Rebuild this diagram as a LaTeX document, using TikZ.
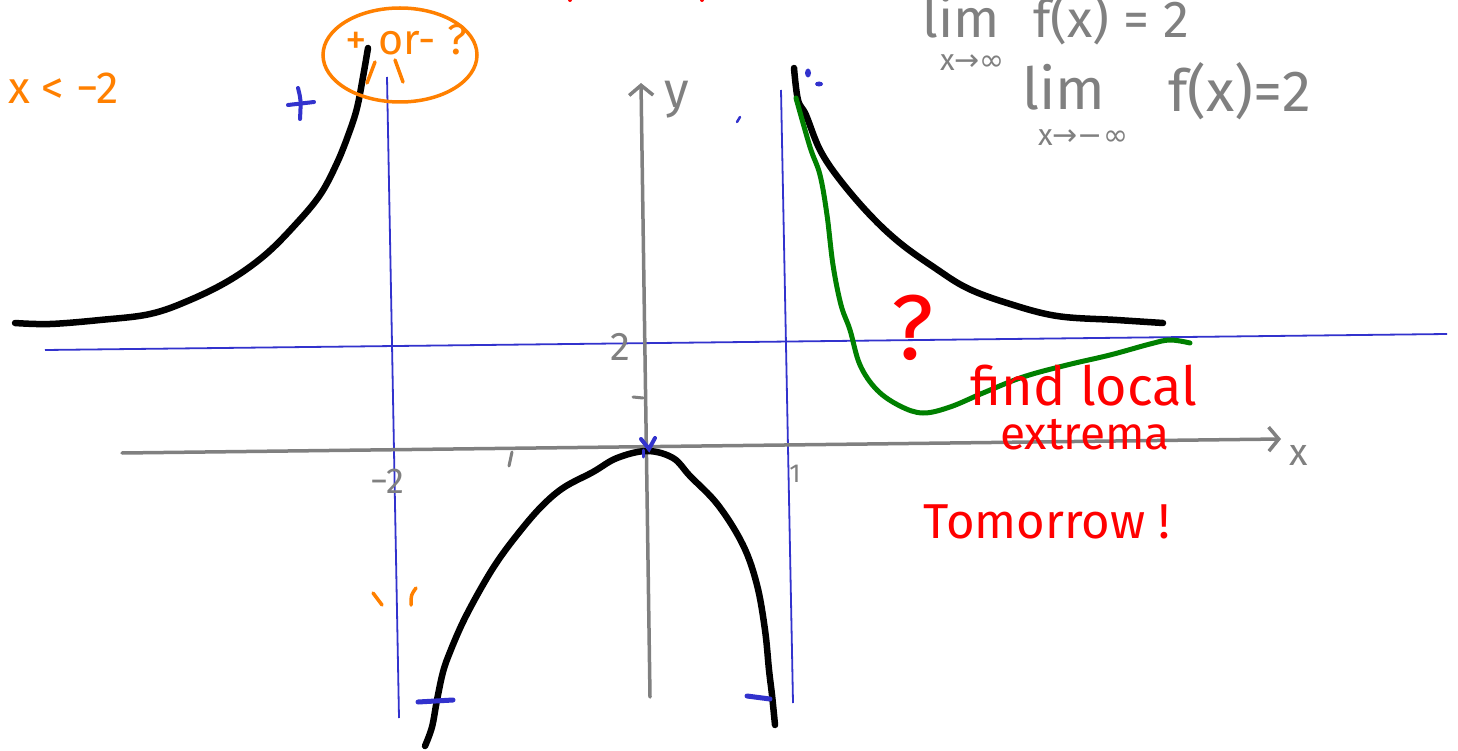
\documentclass[tikz,border=0pt]{standalone}
\usepackage{fontspec}
\setmainfont{Fira Sans}
\newfontfamily\symfont{DejaVu Sans}
\usetikzlibrary{arrows.meta,shapes.geometric}
\definecolor{penblue}{RGB}{50,50,205}
\definecolor{pengray}{RGB}{128,128,128}
\definecolor{penorange}{RGB}{255,128,0}
\definecolor{penred}{RGB}{255,0,0}
\definecolor{pengreen}{RGB}{0,128,0}
\begin{document}
\begin{tikzpicture}[x=1pt,y=-1pt,
  curve/.style={black,line width=6.5pt,line cap=round,line join=round},
  gcurve/.style={pengreen,line width=5pt,line cap=round,line join=round},
  asym/.style={penblue,line width=1.8pt},
  axis/.style={pengray,line width=3.5pt,line cap=round},
  axtip/.style={-{Straight Barb[length=10pt,width=24pt]}},
  bmark/.style={penblue,line width=5pt,line cap=round},
  omark/.style={penorange,line width=3.5pt,line cap=round},
  gtxt/.style={pengray,inner sep=0pt},
  otxt/.style={penorange,inner sep=0pt},
  rtxt/.style={penred,inner sep=0pt},
]
\useasboundingbox[fill=white] (0,0) rectangle (1458,751);

% asymptotes (blue)
\coordinate (hl) at (45,350);
\coordinate (hr) at (1447,334);
\coordinate (vlt) at (387,77);
\coordinate (vlb) at (399,718);
\coordinate (vrt) at (781,90);
\coordinate (vrb) at (793,703);
\draw[asym] (hl) -- (hr);
\draw[asym] (vlt) -- (vlb);
\draw[asym] (vrt) -- (vrb);

% axes (gray)
\coordinate (xs) at (122,453);
\coordinate (xe) at (1281,439);
\coordinate (ys) at (650,697);
\coordinate (ye) at (641,83);
\draw[axis,axtip] (xs) -- (xe);
\draw[axis,axtip] (ys) -- (ye);
\node[gtxt,font=\fontsize{38}{40}\selectfont] (xl) at (1299,455) {x};
\node[gtxt,font=\fontsize{50}{52}\selectfont] (yl) at (677,100) {y};
\node[gtxt,font=\fontsize{40}{42}\selectfont] (two) at (620,347) {2};
\node[gtxt,font=\fontsize{36}{38}\selectfont] (mtwo) at (387,481) {−2};
\node[gtxt,font=\fontsize{26}{28}\selectfont] (one) at (795,474) {1};
\draw[axis,line width=3pt] (633,397) -- (643,398);
\draw[axis,line width=3pt] (512,452) -- (509,466);

% black curves
\draw[curve] plot[smooth,tension=0.6] coordinates {(15,323) (50,324) (100,320) (150,314) (190,300) (230,280) (265,255) (295,225) (320,195) (337,163) (349,133) (357,108) (363,77) (368,48)};
\draw[curve] plot[smooth,tension=0.6] coordinates {(425,746) (432,727) (437,700) (443,672) (450,652) (463,622) (480,590) (497,562) (517,535) (540,508) (563,488) (593,472) (617,458) (647,451) (673,458) (690,476) (718,505) (743,545) (757,585) (765,630) (769,670) (772,695) (775,725)};
\draw[curve] plot[smooth,tension=0.6] coordinates {(794,68) (798,100) (806,115) (820,150) (840,180) (870,215) (900,243) (935,268) (967,288) (1007,303) (1057,316) (1117,320) (1163,323)};

% green curve
\draw[gcurve] plot[smooth,tension=0.6] coordinates {(796,98) (810,147) (820,175) (827,215) (833,265) (841,305) (850,330) (860,365) (877,390) (900,406) (923,413) (950,407) (983,393) (1023,377) (1067,365) (1110,355) (1150,344) (1170,340) (1190,343)};

% blue marks
\draw[bmark,line width=4pt] (288,105) -- (314,102);
\draw[bmark,line width=4pt] (298,88) .. controls (301,100) .. (300,119);
\draw[bmark,line width=2.5pt] (740,117) -- (737,122);
\fill[penblue] (808,73) ellipse [x radius=3pt, y radius=4.5pt];
\fill[penblue] (819,84) ellipse [x radius=4pt, y radius=2.5pt];
\draw[bmark,line width=4pt] (641,439) -- (649,449) -- (655,438);
\draw[bmark,line width=3pt] (643,450) -- (643,457);
\draw[bmark] (418,702) -- (453,700);
\draw[bmark] (747,696) -- (770,699);

% orange
\node[otxt,font=\fontsize{45}{47}\selectfont,anchor=west] (xlt) at (8,88) {x < −2};
\node[ellipse,draw=penorange,line width=3.5pt,minimum width=154pt,minimum height=94pt] (circ) at (400,55) {};
\node[otxt,font=\fontsize{43}{45}\selectfont] (pm) at (406,40) {+ or- ?};
\draw[omark] (375,62) -- (367,83);
\draw[omark] (395,60) -- (403,82);
\draw[omark] (373,593) -- (382,605);
\draw[omark] (416,588) .. controls (411,595) .. (411,605);

% gray limits
\node[gtxt,font=\fontsize{54}{56}\selectfont,anchor=base west,text depth=0pt,text height=36pt] (lim1) at (922,38) {lim};
\node[gtxt,font=\fontsize{30}{32}\selectfont,anchor=base west,text height=16pt,text depth=0pt] (sub1) at (940,71) {x{\symfont →∞}};
\node[gtxt,font=\fontsize{52}{54}\selectfont,anchor=base west] (f1) at (1033,38) {f(x) = 2};
\node[gtxt,font=\fontsize{58}{60}\selectfont,anchor=base west,text depth=0pt] (lim2) at (1022,110) {lim};
\node[gtxt,font=\fontsize{30}{32}\selectfont,anchor=base west,text height=16pt,text depth=0pt] (sub2) at (1038,146) {x{\symfont →−∞}};
\node[gtxt,font=\fontsize{58}{60}\selectfont,anchor=base west] (f2) at (1168,112) {f(x)=2};

% red
\node[rtxt,font=\fontsize{92}{96}\selectfont] (q) at (913,328) {?};
\node[rtxt,font=\fontsize{54}{56}\selectfont,anchor=base,text depth=0pt] (find) at (1084,405) {find local};
\node[rtxt,font=\fontsize{46}{50}\selectfont,anchor=base] (extr) at (1085,449) {extrema};
\node[rtxt,font=\fontsize{49}{54}\selectfont] (tom) at (1047,522) {Tomorrow !};
\fill[penred] (570,0) circle (2pt);
\fill[penred] (702,0) circle (2pt);
\end{tikzpicture}
\end{document}
